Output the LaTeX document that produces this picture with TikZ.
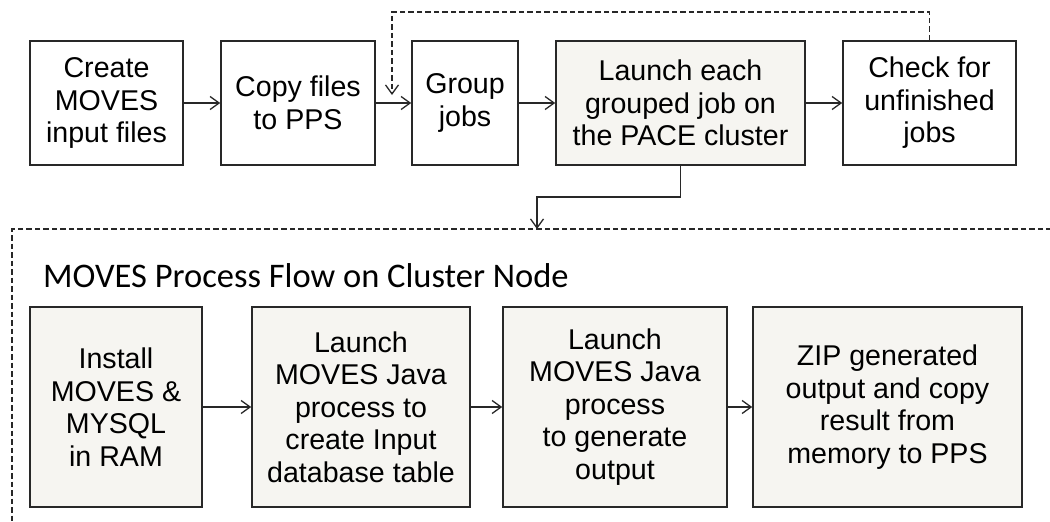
\documentclass[tikz,border=0pt]{standalone}
\usepackage{fontspec}
\setmainfont{Liberation Sans}
\newfontfamily\titlefont{Carlito}
\usetikzlibrary{arrows.meta}
\definecolor{boxfill}{RGB}{246,245,241}
\definecolor{boxline}{RGB}{40,40,40}
\tikzset{
	stepbox/.style={draw=boxline, line width=1.6pt, align=center, inner sep=0pt,
		font=\fontsize{28.6}{32.5}\selectfont},
	grey/.style={fill=boxfill},
	flow/.style={draw=boxline, line width=1.3pt, -{Straight Barb[length=9pt,width=13pt,line width=1.3pt]}},
	dashline/.style={draw=boxline, line width=1.3pt, dash pattern=on 5.5pt off 3pt}
}
\begin{document}
\begin{tikzpicture}[x=1pt, y=-1pt]
		\useasboundingbox (0, 0) rectangle (1050, 522);

		% top row
		\node[stepbox, minimum width=153, minimum height=124] (create) at(106.5, 103){Create\\MOVES\\input files};
		\node[stepbox, minimum width=154, minimum height=124] (copy) at(298, 103){Copy files\\to PPS};
		\node[stepbox, minimum width=106, minimum height=124] (group) at(465, 103){Group\\jobs};
		\node[stepbox, grey, minimum width=249, minimum height=124] (launch) at(680.5, 103){Launch each\\grouped job on\\the PACE cluster};
		\node[stepbox, minimum width=173, minimum height=124] (check) at(929.5, 103){Check for\\unfinished\\jobs};

			\draw[flow] (create) to (copy);
			\draw[flow] (copy) to (group);
			\draw[flow] (group) to (launch);
			\draw[flow] (launch) to (check);

			\coordinate (back) at(392, 95);
			\draw[dashline, -{Straight Barb[length=9pt,width=13pt,line width=1.3pt]}]
				(check.north) |- (392, 12) to (back);

			\coordinate (into) at(537, 229);
			\draw[flow] (launch.south) |- (537, 197) to (into);

		%%%%%%%%%%%%%%%%%%%%%%%%%%%%
		\draw[dashline] (1060, 229) to (12, 229) to (12, 530);
		\node[anchor=base west, inner sep=0pt, font=\titlefont\fontsize{34.5}{40}\selectfont] (title) at(43, 287){MOVES Process Flow on Cluster Node};

		% bottom row
		\node[stepbox, grey, minimum width=172, minimum height=200] (install) at(116, 407){Install\\MOVES \&\\MYSQL\\in RAM};
		\node[stepbox, grey, minimum width=218, minimum height=200] (inputdb) at(361, 407){Launch\\MOVES Java\\process to\\create Input\\database table};
		\node[stepbox, grey, minimum width=224, minimum height=200] (genout) at(615, 407){Launch\\MOVES Java\\process\\to generate\\output};
		\node[stepbox, grey, minimum width=269, minimum height=200] (zipcopy) at(887.5, 407){ZIP generated\\output and copy\\result from\\memory to PPS};

			\draw[flow] (install) to (inputdb);
			\draw[flow] (inputdb) to (genout);
			\draw[flow] (genout) to (zipcopy);
\end{tikzpicture}
\end{document}
